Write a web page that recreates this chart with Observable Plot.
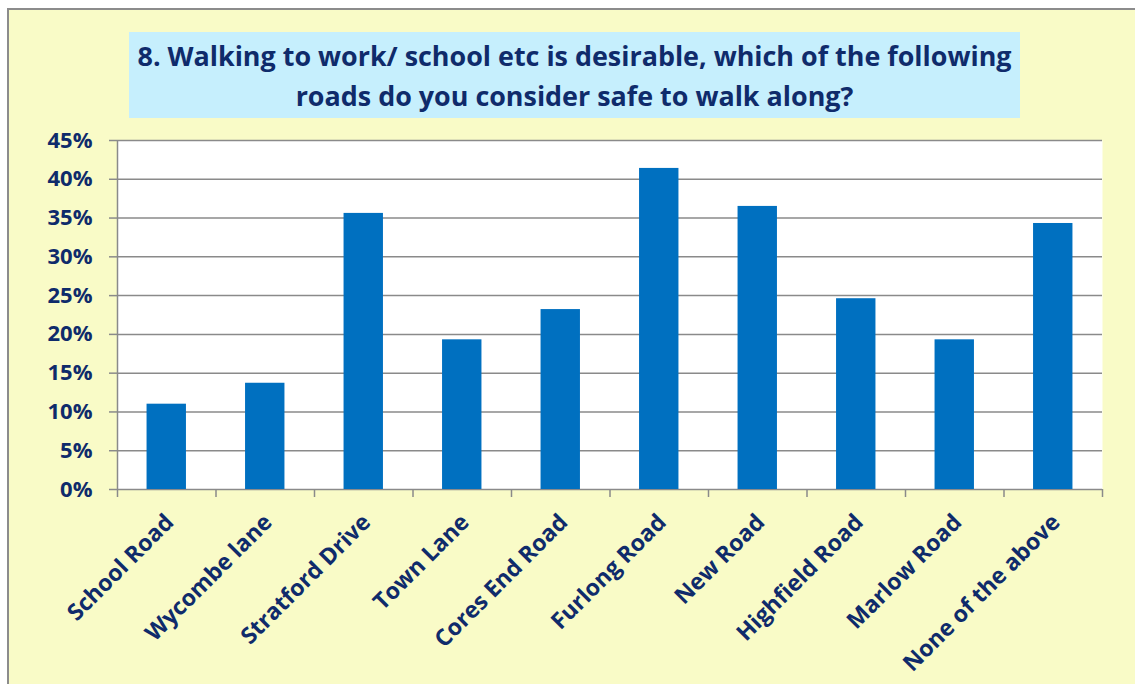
<!DOCTYPE html>
<html>
<head>
<meta charset="utf-8">
<script src="https://cdn.jsdelivr.net/npm/d3@7"></script>
<script src="https://cdn.jsdelivr.net/npm/@observablehq/plot@0.6"></script>
<style>
  body { margin: 0; background: white; }
  #wrap { position: relative; width: 1135px; height: 684px; overflow: hidden; background: white; }
  #frame { position: absolute; left: 7px; top: 8px; width: 1140px; height: 700px; background: #F9FBC7; border: 2px solid #8c8c8c; box-sizing: border-box; }
  #title { position: absolute; left: 129px; top: 32px; width: 891px; height: 86px; background: #C6EFFD;
           font-family: "Open Sans", Lato, sans-serif; font-weight: bold; font-size: 26.9px; line-height: 40px;
           color: #0F2B6B; text-align: center; white-space: nowrap; box-sizing: border-box; padding-top: 4px; }
  #chart { position: absolute; left: 0; top: 0; }
</style>
</head>
<body>
<div id="wrap">
  <div id="frame"></div>
  <div id="title">8. Walking to work/ school etc is desirable, which of the following<br>roads do you consider safe to walk along?</div>
  <div id="chart"></div>
</div>
<script>
const categories = ["School Road", "Wycombe lane", "Stratford Drive", "Town Lane", "Cores End Road",
                    "Furlong Road", "New Road", "Highfield Road", "Marlow Road", "None of the above"];
const values = [0.110, 0.137, 0.356, 0.193, 0.232, 0.414, 0.365, 0.246, 0.193, 0.343];
const yTicks = [0, 0.05, 0.10, 0.15, 0.20, 0.25, 0.30, 0.35, 0.40, 0.45];

const data = categories.map((name, i) => ({name, i, value: values[i]}));
const navy = "#0F2B6B";
const grey = "#8a8a8a";

const chart = Plot.plot({
  width: 1135,
  height: 684,
  marginLeft: 117,
  marginRight: 33,
  marginTop: 140,
  marginBottom: 195,
  style: {background: "transparent", fontFamily: "'Open Sans', Lato, sans-serif"},
  x: {domain: [0, categories.length], axis: null},
  y: {domain: [0, 0.45], axis: null},
  marks: [
    Plot.frame({fill: "white", stroke: null}),
    Plot.ruleY(yTicks, {stroke: grey, strokeWidth: 1.5}),
    Plot.rectY(data, {x1: d => d.i + 0.3, x2: d => d.i + 0.7, y: "value", fill: "#0070C0"}),
    Plot.ruleX([0], {stroke: grey, strokeWidth: 1.5}),
    Plot.axisX(d3.range(categories.length + 1), {tickSize: 8, tickFormat: () => "", stroke: grey, strokeWidth: 1.5, label: null}),
    Plot.axisY(yTicks, {tickSize: 8, tickPadding: 17, stroke: grey, strokeWidth: 1.5, fill: navy, label: null,
      tickFormat: d => Math.round(d * 100) + "%", fontSize: 22, fontWeight: "bold"}),
    Plot.text(data, {x: d => d.i + 0.5, y: () => 0, text: "name", rotate: -45, textAnchor: "end",
      dx: 3, dy: 29, fontSize: 23, fontWeight: "bold", fill: navy})
  ]
});
document.getElementById("chart").append(chart);
</script>
</body>
</html>
